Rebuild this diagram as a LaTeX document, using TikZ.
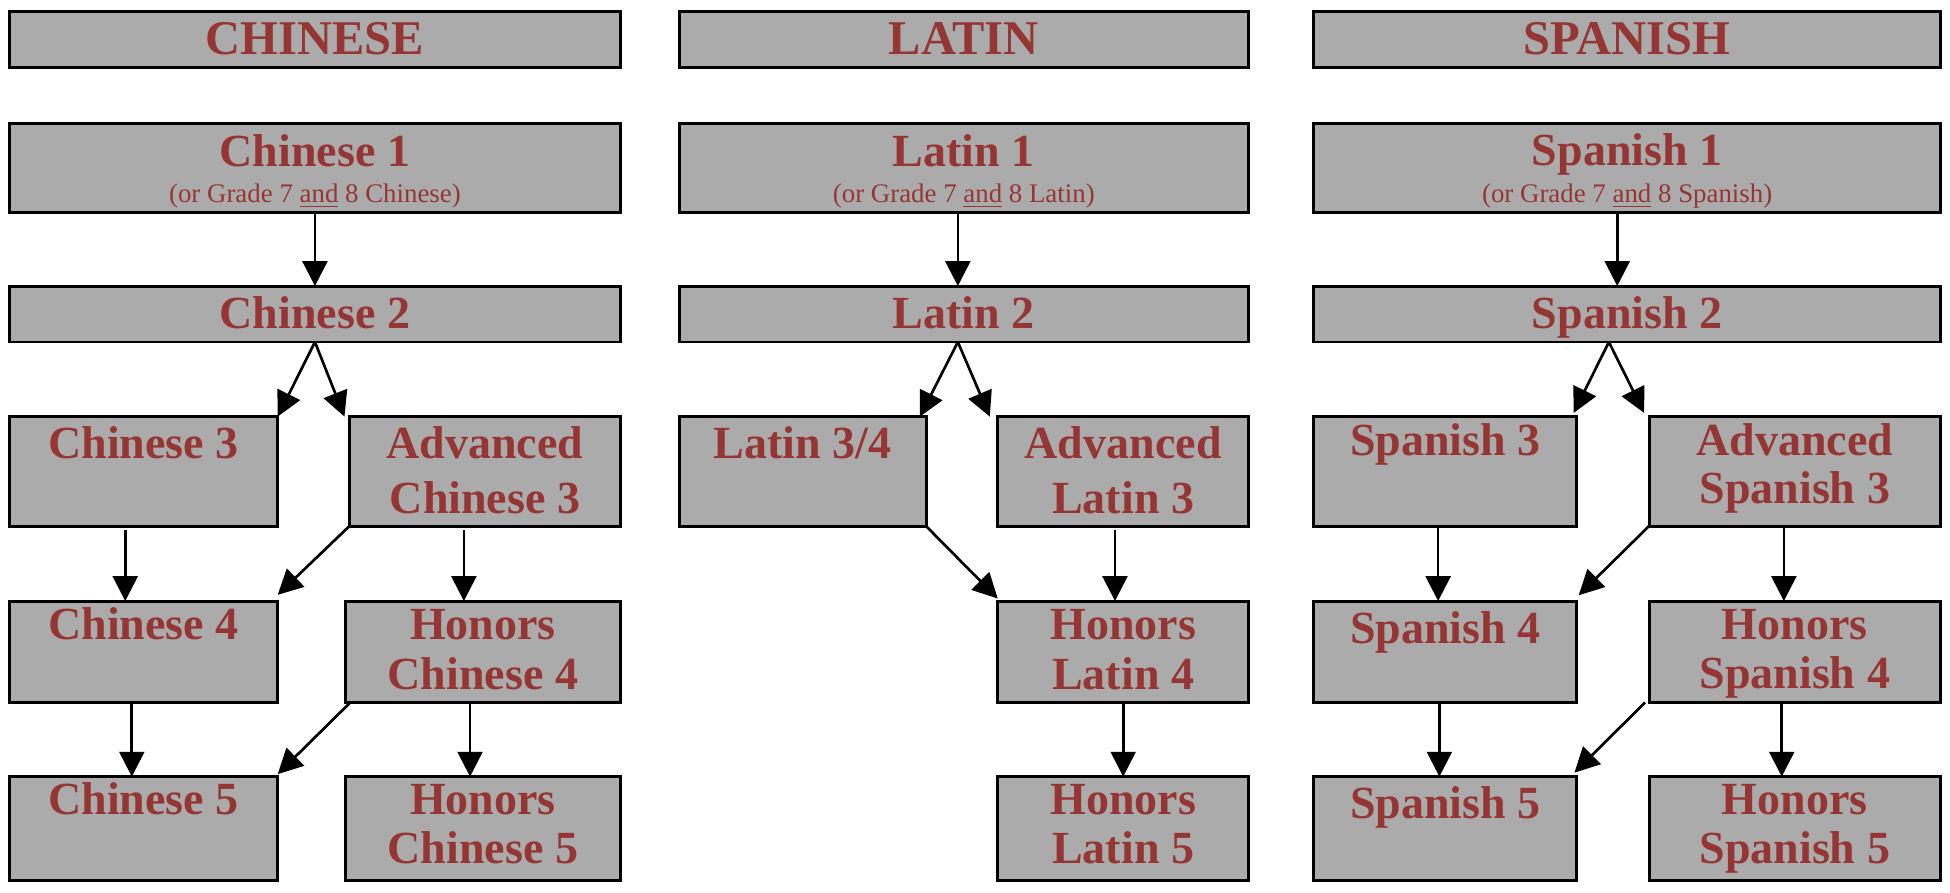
\documentclass[tikz,border=0pt]{standalone}
\usepackage{fontspec}
\setmainfont{Liberation Serif}
\usetikzlibrary{arrows.meta}
\definecolor{boxgray}{HTML}{ABABAB}
\definecolor{txtred}{HTML}{963634}
\newcommand\crsbox[5]{\node[crs, minimum width={(#4-#2)*0.5pt}, minimum height={(#5-#3)*0.5pt}] (#1) at ({(#2+#4)/2},{(#3+#5)/2}) {};}
\begin{document}
\begin{tikzpicture}[x=0.5pt,y=-0.5pt,
  crs/.style={draw=black, line width=1.2pt, fill=boxgray, inner sep=0pt, outer sep=0pt},
  ttl/.style={text=txtred, font=\fontsize{18.5}{20}\selectfont\bfseries, inner sep=0pt, anchor=base},
  hdr/.style={text=txtred, font=\fontsize{19.5}{21}\selectfont\bfseries, inner sep=0pt, anchor=base},
  sub/.style={text=txtred, font=\fontsize{10.8}{12}\selectfont, inner sep=0pt, anchor=base},
  arr/.style={draw=black, line width=1.07pt, -{Triangle[length=10pt,width=10pt]}}]
\fill[white] (0,0) rectangle (1568,718);
\useasboundingbox (0,0) rectangle (1568,718);

% ---------------- CHINESE ----------------
\crsbox{ch}{7.5}{9}{499}{54.5}
\crsbox{c1}{7.5}{99.5}{499}{170.5}
\crsbox{c2}{7.5}{230}{499}{275}
\crsbox{c3}{7.5}{335}{223.3}{423}
\crsbox{ac3}{281}{335}{499}{423}
\crsbox{c4}{7.5}{483.3}{223.3}{564.8}
\crsbox{hc4}{277.7}{483.3}{499}{564.8}
\crsbox{c5}{7.5}{624.5}{223.3}{708.2}
\crsbox{hc5}{277.7}{624.5}{499}{708.2}

\node[hdr] (cht) at (ch |- 0,44.2) {CHINESE};
\node[ttl] (c1t) at (c1 |- 0,133.5) {Chinese 1};
\node[sub] (c1s) at (c1 |- 0,162.7) {(or Grade 7 \underline{and} 8 Chinese)};
\node[ttl] (c2t) at (c2 |- 0,264) {Chinese 2};
\node[ttl] (c3t) at (c3 |- 0,368.6) {Chinese 3};
\node[ttl] (ac3t) at (ac3 |- 0,368.6) {Advanced};
\node[ttl] (ac3u) at (ac3 |- 0,412.8) {Chinese 3};
\node[ttl] (c4t) at (c4 |- 0,514) {Chinese 4};
\node[ttl] (hc4t) at (hc4 |- 0,514) {Honors};
\node[ttl] (hc4u) at (hc4 |- 0,554.3) {Chinese 4};
\node[ttl] (c5t) at (c5 |- 0,654.6) {Chinese 5};
\node[ttl] (hc5t) at (hc5 |- 0,654.6) {Honors};
\node[ttl] (hc5u) at (hc5 |- 0,694.2) {Chinese 5};

\draw[arr] (c1.south) -- (c2.north);
\draw[arr] (c2.south) -- (c3.north east);
\draw[arr] (c2.south) -- ([xshift=-2pt]ac3.north west);
\draw[arr, shorten <=1.5pt] ([xshift=-7.35pt]c3.south) coordinate (pc3) -- (pc3 |- c4.north);
\draw[arr] (ac3.south west) -- ([yshift=2.5pt]c4.north east);
\draw[arr, shorten <=1.5pt] ([xshift=-8.5pt]ac3.south) coordinate (pac3) -- (pac3 |- hc4.north);
\draw[arr, shorten <=0.6pt] ([xshift=-4.7pt]c4.south) coordinate (pc4) -- (pc4 |- c5.north);
\draw[arr] ([xshift=2pt]hc4.south west) -- ([yshift=1pt]c5.north east);
\draw[arr, shorten <=0.6pt] ([xshift=-5.2pt]hc4.south) coordinate (phc4) -- (phc4 |- hc5.north);

% ---------------- LATIN ----------------
\crsbox{la}{546}{9}{1004}{54.5}
\crsbox{l1}{546}{99.5}{1004}{170.5}
\crsbox{l2}{546}{230}{1004}{275}
\crsbox{l34}{546}{335}{744.6}{423}
\crsbox{al3}{802.3}{335}{1004}{423}
\crsbox{hl4}{802.3}{483.3}{1004}{564.8}
\crsbox{hl5}{802.3}{624.5}{1004}{708.2}

\node[hdr] (lat) at (la |- 0,44.2) {LATIN};
\node[ttl] (l1t) at (l1 |- 0,133.5) {Latin 1};
\node[sub] (l1s) at (l1 |- 0,162.7) {(or Grade 7 \underline{and} 8 Latin)};
\node[ttl] (l2t) at (l2 |- 0,264) {Latin 2};
\node[ttl] (l34t) at (l34 |- 0,368.6) {Latin 3/4};
\node[ttl] (al3t) at (al3 |- 0,368.6) {Advanced};
\node[ttl] (al3u) at (al3 |- 0,412.8) {Latin 3};
\node[ttl] (hl4t) at (hl4 |- 0,514) {Honors};
\node[ttl] (hl4u) at (hl4 |- 0,554.3) {Latin 4};
\node[ttl] (hl5t) at (hl5 |- 0,654.6) {Honors};
\node[ttl] (hl5u) at (hl5 |- 0,694.2) {Latin 5};

\draw[arr] ([xshift=-2.4pt]l1.south) coordinate (pl1) -- (pl1 |- l2.north);
\draw[arr] ([xshift=-2.4pt]l2.south) coordinate (pl2) -- ([xshift=-2.45pt]l34.north east);
\draw[arr] (pl2) -- ([xshift=-3.2pt]al3.north west);
\draw[arr] (l34.south east) -- ([yshift=1pt]hl4.north west);
\draw[arr, shorten <=1.5pt] ([xshift=-3.3pt]al3.south) coordinate (pal3) -- (pal3 |- hl4.north);
\draw[arr] (hl4.south) -- (hl5.north);

% ---------------- SPANISH ----------------
\crsbox{sp}{1056.4}{9}{1560.4}{54.5}
\crsbox{s1}{1056.4}{99.5}{1560.4}{170.5}
\crsbox{s2}{1056.4}{230}{1560.4}{275}
\crsbox{s3}{1056.4}{335}{1268}{423}
\crsbox{as3}{1326}{335}{1560.4}{423}
\crsbox{s4}{1056.4}{483.3}{1268}{564.8}
\crsbox{hs4}{1326}{483.3}{1560.4}{564.8}
\crsbox{s5}{1056.4}{624.5}{1268}{708.2}
\crsbox{hs5}{1326}{624.5}{1560.4}{708.2}

\node[hdr] (spt) at (sp |- 0,44.2) {SPANISH};
\node[ttl] (s1t) at (s1 |- 0,133.3) {Spanish 1};
\node[sub] (s1s) at (s1 |- 0,162.7) {(or Grade 7 \underline{and} 8 Spanish)};
\node[ttl] (s2t) at (s2 |- 0,264) {Spanish 2};
\node[ttl] (s3t) at (s3 |- 0,366) {Spanish 3};
\node[ttl] (as3t) at (as3 |- 0,366) {Advanced};
\node[ttl] (as3u) at (as3 |- 0,404.7) {Spanish 3};
\node[ttl] (s4t) at (s4 |- 0,517.3) {Spanish 4};
\node[ttl] (hs4t) at (hs4 |- 0,514) {Honors};
\node[ttl] (hs4u) at (hs4 |- 0,553.5) {Spanish 4};
\node[ttl] (s5t) at (s5 |- 0,658) {Spanish 5};
\node[ttl] (hs5t) at (hs5 |- 0,654.6) {Honors};
\node[ttl] (hs5u) at (hs5 |- 0,694.2) {Spanish 5};

\draw[arr] ([xshift=-4pt]s1.south) coordinate (ps1) -- (ps1 |- s2.north);
\draw[arr] ([xshift=-7.35pt]s2.south) coordinate (ps2) -- ([xshift=-1.3pt,yshift=1.5pt]s3.north east);
\draw[arr] (ps2) -- ([xshift=-2pt,yshift=1.5pt]as3.north west);
\draw[arr, shorten <=0.6pt] ([xshift=-2.9pt]s3.south) coordinate (ps3) -- (ps3 |- s4.north);
\draw[arr] (as3.south west) -- ([xshift=0.7pt,yshift=2.3pt]s4.north east);
\draw[arr, shorten <=0.6pt] ([xshift=-4.4pt]as3.south) coordinate (pas3) -- (pas3 |- hs4.north);
\draw[arr, shorten <=0.6pt] ([xshift=-2.4pt]s4.south) coordinate (ps4) -- (ps4 |- s5.north);
\draw[arr] ([xshift=-1.6pt]hs4.south west) -- ([xshift=-1pt,yshift=1.6pt]s5.north east);
\draw[arr, shorten <=0.6pt] ([xshift=-5.25pt]hs4.south) coordinate (phs4) -- (phs4 |- hs5.north);
\end{tikzpicture}
\end{document}
